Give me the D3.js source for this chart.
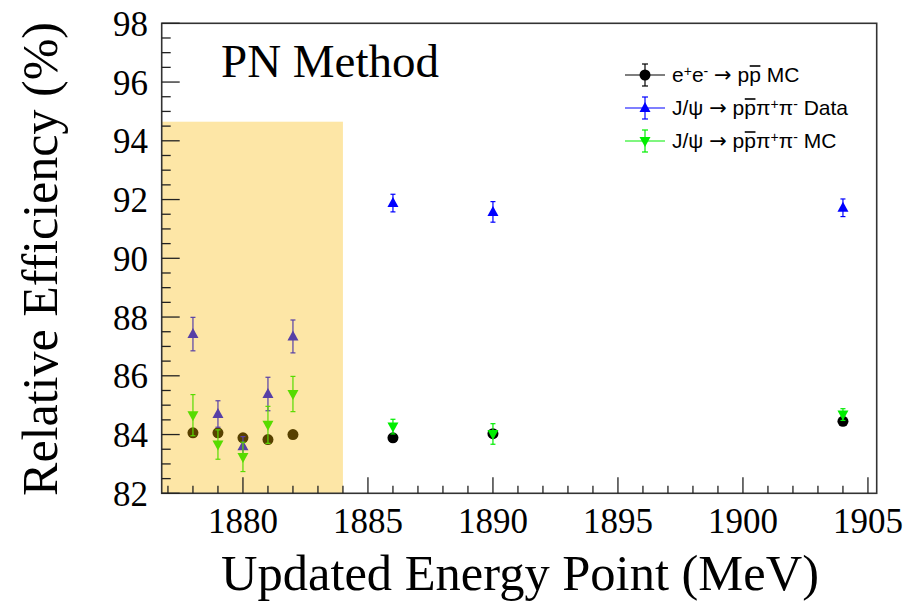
<!DOCTYPE html>
<html>
<head>
<meta charset="utf-8">
<script src="https://cdn.jsdelivr.net/npm/d3@7"></script>
<style>
  body { margin: 0; background: #fff; }
  svg { display: block; }
</style>
</head>
<body>
<svg id="chart"></svg>
<script>
// energy points (MeV)
const energies = [1878, 1879, 1880, 1881, 1882, 1886, 1890, 1904];

// e+e- -> ppbar MC
const eeMC = [84.06, 84.06, 83.89, 83.83, 84.00, 83.89, 84.03, 84.45];
const eeMCErr = [0.08, 0.08, 0.08, 0.08, 0.08, 0.08, 0.08, 0.08];

// J/psi -> ppbar pi+ pi- Data
const jpsiData = [87.42, 84.70, 83.60, 85.38, 87.34, 91.88, 91.58, 91.72];
const jpsiDataErr = [0.57, 0.45, 0.33, 0.57, 0.56, 0.30, 0.35, 0.30];

// J/psi -> ppbar pi+ pi- MC
const jpsiMC = [84.66, 83.66, 83.24, 84.33, 85.38, 84.27, 84.02, 84.68];
const jpsiMCErr = [0.70, 0.50, 0.50, 0.63, 0.60, 0.25, 0.35, 0.20];

const xTicks = [1880, 1885, 1890, 1895, 1900, 1905];
const yTicks = [82, 84, 86, 88, 90, 92, 94, 96, 98];

// shaded band (old energy points)
const band = { x0: 1876.75, x1: 1884, y0: 82, y1: 94.65 };

const W = 906, H = 602;
const svg = d3.select("#chart").attr("width", W).attr("height", H);

const frame = { left: 161.7, right: 876.7, top: 23.3, bottom: 493.3 };

const x = d3.scaleLinear().domain([1876.75, 1905.35]).range([frame.left, frame.right]);
const y = d3.scaleLinear().domain([82, 98]).range([frame.bottom, frame.top]);

const serif = "'Liberation Serif', 'Times New Roman', serif";
const sans = "'Liberation Sans', Arial, sans-serif";

// series definitions
const series = [
    { name: "ee", values: eeMC, errs: eeMCErr, color: "#000000", marker: "circle" },
    { name: "data", values: jpsiData, errs: jpsiDataErr, color: "#0000ff", marker: "up" },
    { name: "mc", values: jpsiMC, errs: jpsiMCErr, color: "#00ee00", marker: "down" }
];

function markerPath(type) {
    if (type === "circle") return d3.symbol(d3.symbolCircle, 95)();
    if (type === "up") return "M0,-6L5.5,4L-5.5,4Z";
    return "M0,6L5.5,-4L-5.5,-4Z";
}

// draw the points with error bars
series.forEach(s => {
    const g = svg.append("g").attr("class", "series-" + s.name);
    const pts = energies.map((e, i) => ({ e: e, v: s.values[i], err: s.errs[i] }));

    const bars = g.selectAll("g.pt").data(pts).enter().append("g").attr("class", "pt");
    bars.append("line")
        .attr("x1", d => x(d.e)).attr("x2", d => x(d.e))
        .attr("y1", d => y(d.v - d.err)).attr("y2", d => y(d.v + d.err))
        .attr("stroke", s.color).attr("stroke-width", 1.2);
    [-1, 1].forEach(sign => {
        bars.append("line")
            .attr("x1", d => x(d.e) - 2.5).attr("x2", d => x(d.e) + 2.5)
            .attr("y1", d => y(d.v + sign * d.err)).attr("y2", d => y(d.v + sign * d.err))
            .attr("stroke", s.color).attr("stroke-width", 1.2);
    });
    bars.append("path")
        .attr("d", markerPath(s.marker))
        .attr("transform", d => `translate(${x(d.e)},${y(d.v)})`)
        .attr("fill", s.color);
});

// semi-transparent band drawn over the points
svg.append("rect")
    .attr("x", x(band.x0)).attr("y", y(band.y1))
    .attr("width", x(band.x1) - x(band.x0))
    .attr("height", y(band.y0) - y(band.y1))
    .attr("fill", "rgb(249,183,0)")
    .attr("fill-opacity", 0.35);

// frame
svg.append("rect")
    .attr("x", frame.left).attr("y", frame.top)
    .attr("width", frame.right - frame.left)
    .attr("height", frame.bottom - frame.top)
    .attr("fill", "none")
    .attr("stroke", "#333").attr("stroke-width", 1.6);

// y ticks: major every 2, minor every 0.5, drawn inward
const yMinor = d3.range(82, 98.01, 0.5);
svg.append("g").selectAll("line").data(yMinor).enter().append("line")
    .attr("x1", frame.left).attr("y1", d => y(d))
    .attr("x2", d => frame.left + (yTicks.includes(d) ? 18 : 9))
    .attr("y2", d => y(d))
    .attr("stroke", "#222").attr("stroke-width", 1.3);

svg.append("g").selectAll("text").data(yTicks).enter().append("text")
    .attr("x", 148).attr("y", d => y(d))
    .attr("dy", "0.36em")
    .attr("text-anchor", "end")
    .attr("font-family", serif).attr("font-size", 35)
    .text(d => d);

// x ticks: major every 5, minor every 1, drawn inward
const xMinor = d3.range(1877, 1905.01, 1);
svg.append("g").selectAll("line").data(xMinor).enter().append("line")
    .attr("x1", d => x(d)).attr("x2", d => x(d))
    .attr("y1", frame.bottom)
    .attr("y2", d => frame.bottom - (xTicks.includes(d) ? 16 : 7.5))
    .attr("stroke", "#222").attr("stroke-width", 1.3);

svg.append("g").selectAll("text").data(xTicks).enter().append("text")
    .attr("x", d => x(d)).attr("y", 533)
    .attr("text-anchor", "middle")
    .attr("font-family", serif).attr("font-size", 35)
    .text(d => d);

// axis titles
svg.append("text")
    .attr("x", 520).attr("y", 590)
    .attr("text-anchor", "middle")
    .attr("font-family", serif).attr("font-size", 50.5)
    .text("Updated Energy Point (MeV)");

svg.append("text")
    .attr("transform", "translate(57,259) rotate(-90)")
    .attr("text-anchor", "middle")
    .attr("font-family", serif).attr("font-size", 50)
    .text("Relative Efficiency (%)");

// title
svg.append("text")
    .attr("x", 221).attr("y", 77)
    .attr("font-family", serif).attr("font-size", 47)
    .text("PN Method");

// legend
const legendRows = [
    { s: series[0], y: 75, parts: [["e", ""], ["+", "sup"], ["e", ""], ["-", "sup"], [" ", ""], ["\u2192", "arrow"], [" p", ""], ["p", "bar"], [" MC", ""]] },
    { s: series[1], y: 108, parts: [["J/\u03c8 ", ""], ["\u2192", "arrow"], [" p", ""], ["p", "bar"], ["\u03c0", ""], ["+", "sup"], ["\u03c0", ""], ["-", "sup"], [" Data", ""]] },
    { s: series[2], y: 141, parts: [["J/\u03c8 ", ""], ["\u2192", "arrow"], [" p", ""], ["p", "bar"], ["\u03c0", ""], ["+", "sup"], ["\u03c0", ""], ["-", "sup"], [" MC", ""]] }
];

const leg = svg.append("g").attr("class", "legend");
legendRows.forEach(row => {
    const g = leg.append("g").attr("transform", `translate(645,${row.y})`);
    g.append("line").attr("x1", -20).attr("x2", 20).attr("stroke", row.s.color).attr("stroke-width", 1.2);
    g.append("line").attr("y1", -11).attr("y2", 11).attr("stroke", row.s.color).attr("stroke-width", 1.2);
    [-11, 11].forEach(yy => g.append("line").attr("x1", -3).attr("x2", 3).attr("y1", yy).attr("y2", yy)
        .attr("stroke", row.s.color).attr("stroke-width", 1.2));
    g.append("path").attr("d", markerPath(row.s.marker)).attr("fill", row.s.color);

    const t = g.append("text").attr("x", 27).attr("y", 7)
        .attr("font-family", sans).attr("font-size", 21);
    let idx = 0, barIdx = -1;
    row.parts.forEach(p => {
        const ts = t.append("tspan").text(p[0]);
        if (p[1] === "sup") {
            ts.attr("font-size", 14).attr("baseline-shift", "45%");
        } else if (p[1] === "bar") {
            barIdx = idx;
        } else if (p[1] === "arrow") {
            ts.attr("font-family", "'DejaVu Sans', sans-serif");
        }
        idx += p[0].length;
    });
    // overline on the antiproton
    const node = t.node();
    const x0 = node.getStartPositionOfChar(barIdx).x;
    const x1 = node.getEndPositionOfChar(barIdx).x;
    g.append("line")
        .attr("x1", x0 + 0.5).attr("x2", x1 - 0.5)
        .attr("y1", -9).attr("y2", -9)
        .attr("stroke", "#000").attr("stroke-width", 1.6);
});
</script>
</body>
</html>
